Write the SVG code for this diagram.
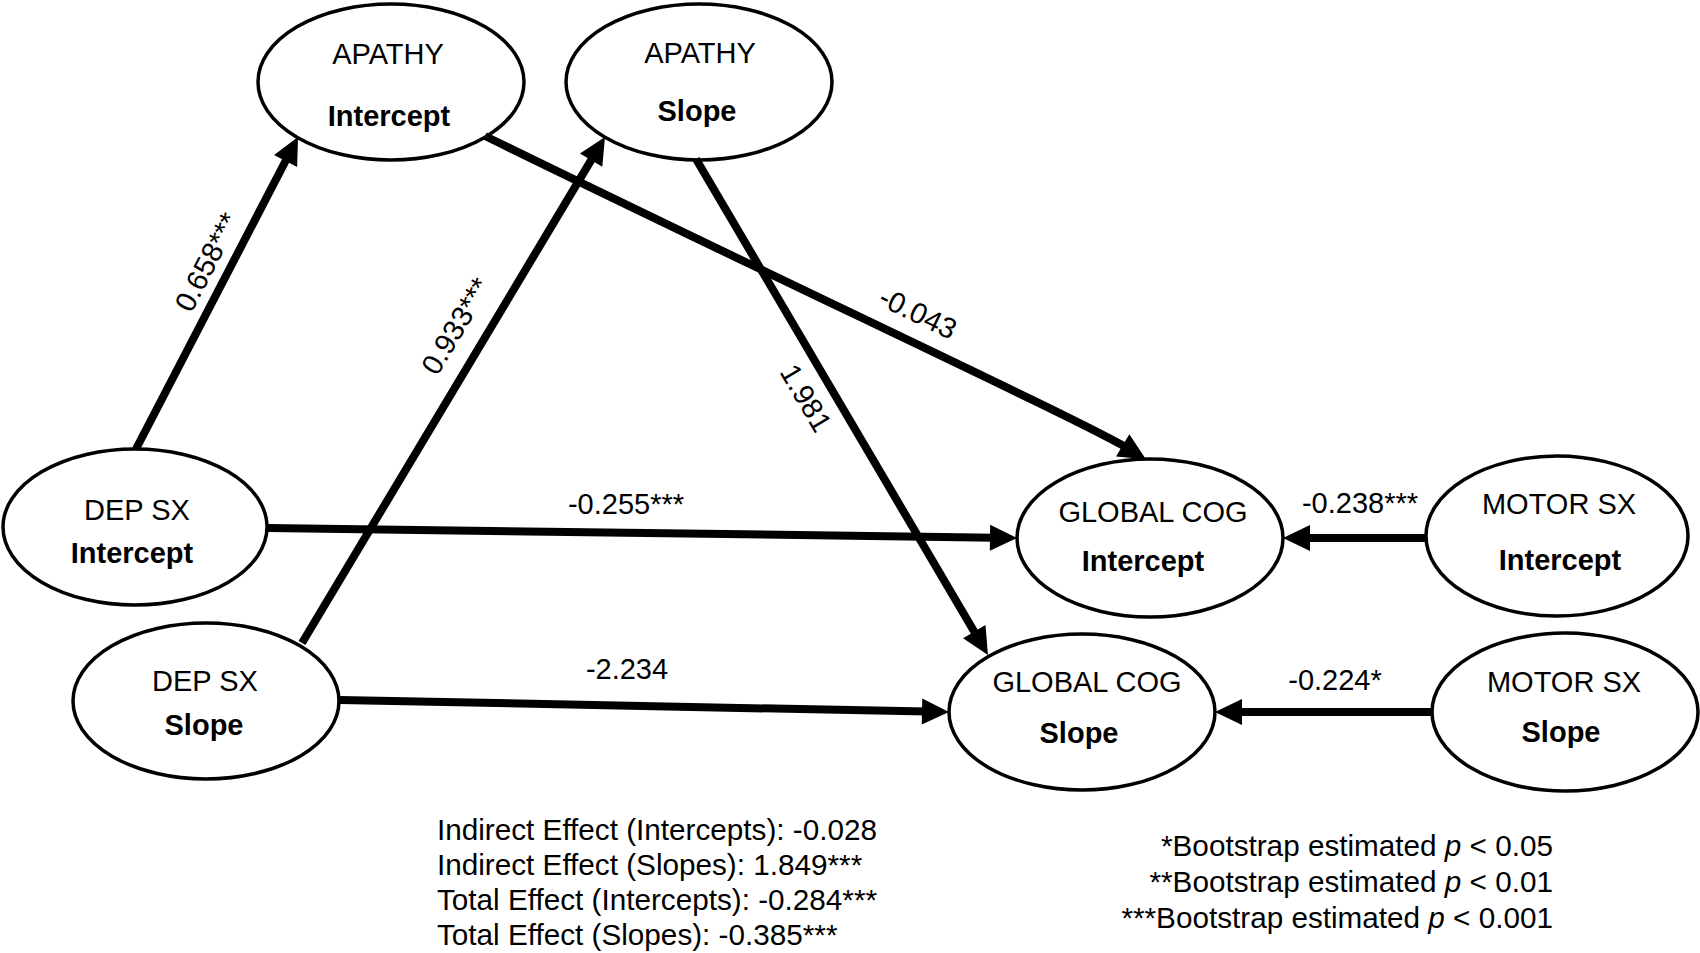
<svg xmlns="http://www.w3.org/2000/svg" width="1700" height="953" viewBox="0 0 1700 953">
<defs>
<style>
.node ellipse{fill:#fff;stroke:#000;stroke-width:3.5}
text{font-family:"Liberation Sans",Arial,Helvetica,sans-serif;font-size:29px;fill:#000}
.t{text-anchor:middle}
.b{font-weight:bold}
.edge{fill:none;stroke:#000;stroke-width:8;marker-end:url(#ah)}
.lbl{text-anchor:middle}
.note{font-size:29.7px}
</style>
<marker id="ah" markerUnits="userSpaceOnUse" markerWidth="27" markerHeight="26" refX="5" refY="13" orient="auto" overflow="visible">
<path d="M0,0 L27,13 L0,26 Z" fill="#000"/>
</marker>
</defs>
<rect width="1700" height="953" fill="#fff"/>

<g id="apathy-intercept" class="node">
<ellipse cx="391" cy="82" rx="133" ry="78"/>
<text class="t" x="388" y="64">APATHY</text>
<text class="t b" x="389" y="126">Intercept</text>
</g>
<g id="apathy-slope" class="node">
<ellipse cx="699" cy="82" rx="133" ry="78"/>
<text class="t" x="700" y="63">APATHY</text>
<text class="t b" x="697" y="121">Slope</text>
</g>
<g id="dep-intercept" class="node">
<ellipse cx="135" cy="527" rx="132" ry="78"/>
<text class="t" x="137" y="520">DEP SX</text>
<text class="t b" x="132" y="563">Intercept</text>
</g>
<g id="dep-slope" class="node">
<ellipse cx="206" cy="701" rx="133" ry="78"/>
<text class="t" x="205" y="691">DEP SX</text>
<text class="t b" x="204" y="735">Slope</text>
</g>
<g id="cog-intercept" class="node">
<ellipse cx="1150" cy="538" rx="133" ry="79"/>
<text class="t" x="1153" y="522">GLOBAL COG</text>
<text class="t b" x="1143" y="571">Intercept</text>
</g>
<g id="cog-slope" class="node">
<ellipse cx="1082" cy="712" rx="133" ry="78"/>
<text class="t" x="1087" y="692">GLOBAL COG</text>
<text class="t b" x="1079" y="743">Slope</text>
</g>
<g id="motor-intercept" class="node">
<ellipse cx="1557" cy="536" rx="131" ry="80"/>
<text class="t" x="1559" y="514">MOTOR SX</text>
<text class="t b" x="1560" y="570">Intercept</text>
</g>
<g id="motor-slope" class="node">
<ellipse cx="1565" cy="712" rx="133" ry="79"/>
<text class="t" x="1564" y="692">MOTOR SX</text>
<text class="t b" x="1561" y="742">Slope</text>
</g>

<g id="connectors">
<path class="edge" d="M136,449 L287.9,156.5"/>
<path class="edge" d="M302,643 L593.7,155.9"/>
<path class="edge" d="M485,136 C800,290 1080,420 1127,448"/>
<path class="edge" d="M696,159 L976.8,636"/>
<path class="edge" d="M268,528 L995,537.7"/>
<path class="edge" d="M340,700 L927,711.6"/>
<path class="edge" d="M1427,538 L1305,538"/>
<path class="edge" d="M1432,712 L1237,712"/>
<text class="lbl" transform="translate(207,262) rotate(-62.6)" y="10">0.658***</text>
<text class="lbl" transform="translate(456,326) rotate(-59.1)" y="10">0.933***</text>
<text class="lbl" transform="translate(918,313) rotate(26.1)" y="10">-0.043</text>
<text class="lbl" transform="translate(806,398) rotate(59.5)" y="10">1.981</text>
<text class="lbl" x="626" y="514">-0.255***</text>
<text class="lbl" x="627" y="679">-2.234</text>
<text class="lbl" x="1360" y="513">-0.238***</text>
<text class="lbl" x="1335" y="690">-0.224*</text>
</g>

<g id="effects" class="note">
<text class="note" x="437" y="840">Indirect Effect (Intercepts): -0.028</text>
<text class="note" x="437" y="875">Indirect Effect (Slopes): 1.849***</text>
<text class="note" x="437" y="910">Total Effect (Intercepts): -0.284***</text>
<text class="note" x="437" y="945">Total Effect (Slopes): -0.385***</text>
</g>
<g id="legend" style="text-anchor:end">
<text class="note" x="1553" y="856">*Bootstrap estimated <tspan font-style="italic">p</tspan> &lt; 0.05</text>
<text class="note" x="1553" y="892">**Bootstrap estimated <tspan font-style="italic">p</tspan> &lt; 0.01</text>
<text class="note" x="1553" y="928">***Bootstrap estimated <tspan font-style="italic">p</tspan> &lt; 0.001</text>
</g>
</svg>
